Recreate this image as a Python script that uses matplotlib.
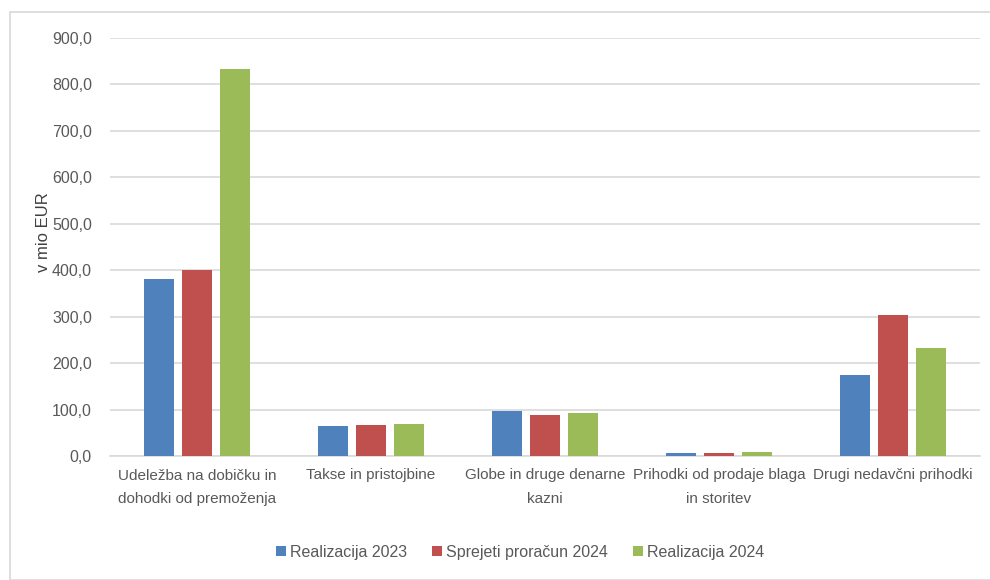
import matplotlib.pyplot as plt
import matplotlib.patches as mpatches
import numpy as np

categories = ['Udeležba na dobičku in\ndohodki od premoženja',
              'Takse in pristojbine',
              'Globe in druge denarne\nkazni',
              'Prihodki od prodaje blaga\nin storitev',
              'Drugi nedavčni prihodki']
series_names = ['Realizacija 2023', 'Sprejeti proračun 2024', 'Realizacija 2024']
real_2023 = [381.0, 65.0, 97.0, 6.0, 174.0]
budget_2024 = [400.0, 67.0, 88.0, 6.0, 303.0]
real_2024 = [834.0, 69.0, 93.0, 9.0, 232.0]
colors = ['#4f81bd', '#c0504d', '#9bbb59']

font = ['Liberation Sans', 'DejaVu Sans']
txt = '#595959'

fig = plt.figure(figsize=(9.9, 5.8), dpi=100)
ax = fig.add_axes([110 / 990, (580 - 456) / 580, 870 / 990, 418 / 580])

# outer chart border
fig.patches.append(mpatches.Rectangle((10 / 990, 0), 985 / 990, 568 / 580,
                                      transform=fig.transFigure, fill=False,
                                      edgecolor='#d9d9d9', linewidth=1.2))

x = np.arange(len(categories))
w = 0.172
step = 0.218
for i, (vals, name) in enumerate(zip([real_2023, budget_2024, real_2024], series_names)):
    ax.bar(x + (i - 1) * step, vals, width=w, color=colors[i], label=name, zorder=3)

ax.set_xlim(-0.5, len(categories) - 0.5)
ax.set_ylim(0, 900)
ax.set_yticks(np.arange(0, 901, 100))
ax.set_yticklabels([f'{v:.1f}'.replace('.', ',') for v in np.arange(0, 901, 100)],
                   family=font, fontsize=11.5, color=txt)
ax.set_xticks(x)
ax.set_xticklabels(categories, family=font, fontsize=11, color=txt, linespacing=1.9)
ax.tick_params(axis='both', length=0)
ax.tick_params(axis='y', pad=13)
ax.tick_params(axis='x', pad=9)
ax.yaxis.grid(True, color='#d9d9d9', linewidth=1.2, zorder=0)
for s in ['top', 'right', 'left']:
    ax.spines[s].set_visible(False)
ax.spines['bottom'].set_color('#d9d9d9')
ax.spines['bottom'].set_linewidth(1.2)

fig.text(44 / 990, 1 - 232 / 580, 'v mio EUR', rotation=90, ha='center', va='center',
         fontsize=12, color='#404040', family='Liberation Sans')

leg = fig.legend(loc='center', bbox_to_anchor=(520 / 990, 1 - 552 / 580), ncol=3,
                 frameon=False, prop={'family': font, 'size': 11.5},
                 handlelength=0.6, handleheight=0.6, handletextpad=0.25, columnspacing=1.6)
for t in leg.get_texts():
    t.set_color(txt)

fig.savefig('out.png', dpi=100)
